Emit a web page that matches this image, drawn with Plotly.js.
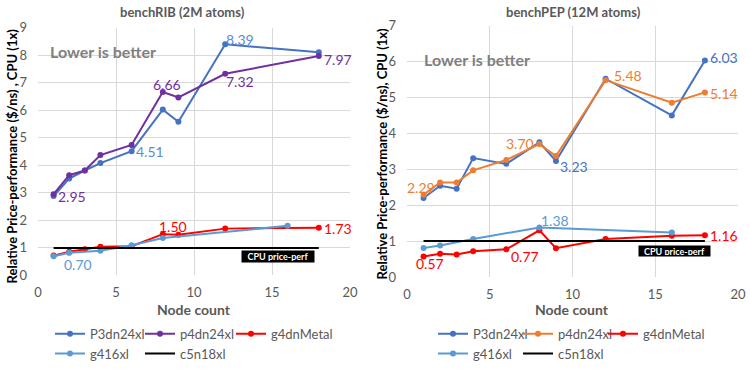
<!DOCTYPE html>
<html>
<head>
<meta charset="utf-8">
<script src="https://cdn.plot.ly/plotly-3.0.1.min.js"></script>
<style>html,body{margin:0;padding:0;background:#fff;}#chart{width:750px;height:369px;}</style>
</head>
<body>
<div id="chart"></div>
<script>
// ---------- benchRIB (2M atoms) ----------
var ribNodes      = [1, 2, 3, 4, 6, 8, 9, 12, 18];
var ribP3dn24xl   = [2.88, 3.52, 3.81, 4.08, 4.51, 6.02, 5.58, 8.39, 8.10];
var ribP4dn24xl   = [2.95, 3.64, 3.81, 4.37, 4.74, 6.66, 6.46, 7.32, 7.97];
var ribG4dnMetal  = [0.72, 0.86, 0.95, 1.04, 1.06, 1.50, 1.48, 1.70, 1.73];
var ribG416Nodes  = [1, 2, 4, 6, 8, 16];
var ribG416xl     = [0.70, 0.82, 0.90, 1.10, 1.36, 1.80];
var cpuNodes      = [1, 18];
var cpuBaseline   = [1, 1];

// ---------- benchPEP (12M atoms) ----------
var pepNodes      = [1, 2, 3, 4, 6, 8, 9, 12, 16, 18];
var pepP3dn24xl   = [2.20, 2.54, 2.46, 3.31, 3.15, 3.75, 3.23, 5.52, 4.50, 6.03];
var pepP4dn24xl   = [2.29, 2.63, 2.63, 2.97, 3.26, 3.70, 3.37, 5.48, 4.85, 5.14];
var pepG4dnMetal  = [0.57, 0.65, 0.63, 0.72, 0.77, 1.30, 0.80, 1.06, 1.15, 1.16];
var pepG416Nodes  = [1, 2, 4, 8, 16];
var pepG416xl     = [0.81, 0.88, 1.06, 1.38, 1.24];

var seriesNames = ['P3dn24xl', 'p4dn24xl', 'g4dnMetal', 'g416xl', 'c5n18xl'];
var xTicks = [0, 5, 10, 15, 20];

var C_P3 = '#4472C4', C_P4L = '#7030A0', C_P4R = '#ED7D31', C_RED = '#FF0000', C_G416 = '#5B9BD5';
var FONT = 'Lato, "Open Sans", sans-serif';

function tr(name, x, y, color, xa, ya, legend, mode) {
  return {
    type: 'scatter', mode: mode || 'lines+markers', name: name, x: x, y: y,
    xaxis: xa, yaxis: ya, legend: legend,
    line: {color: color, width: 2}, marker: {color: color, size: 6},
    hoverinfo: 'x+y+name'
  };
}

// legend columns: legend/legend2/legend3 (left chart), legend4/legend5/legend6 (right chart)
var data = [
  tr(seriesNames[0], ribNodes, ribP3dn24xl, C_P3, 'x', 'y', 'legend'),
  tr(seriesNames[1], ribNodes, ribP4dn24xl, C_P4L, 'x', 'y', 'legend2'),
  tr(seriesNames[2], ribNodes, ribG4dnMetal, C_RED, 'x', 'y', 'legend3'),
  tr(seriesNames[3], ribG416Nodes, ribG416xl, C_G416, 'x', 'y', 'legend'),
  tr(seriesNames[4], cpuNodes, cpuBaseline, '#000000', 'x', 'y', 'legend2', 'lines'),
  tr(seriesNames[0], pepNodes, pepP3dn24xl, C_P3, 'x2', 'y2', 'legend4'),
  tr(seriesNames[1], pepNodes, pepP4dn24xl, C_P4R, 'x2', 'y2', 'legend5'),
  tr(seriesNames[2], pepNodes, pepG4dnMetal, C_RED, 'x2', 'y2', 'legend6'),
  tr(seriesNames[3], pepG416Nodes, pepG416xl, C_G416, 'x2', 'y2', 'legend4'),
  tr(seriesNames[4], cpuNodes, cpuBaseline, '#000000', 'x2', 'y2', 'legend5', 'lines')
];

function lab(xr, yr, x, y, color, xanchor, xs, ys) {
  return {xref: xr, yref: yr, x: x, y: y, text: y.toFixed(2), showarrow: false,
    font: {family: FONT, size: 14, color: color}, xanchor: xanchor, yanchor: 'middle',
    xshift: xs, yshift: ys};
}
var annotations = [
  lab('x', 'y', ribNodes[7], ribP3dn24xl[7], '#5B8BD5', 'left', -1, 5),
  lab('x', 'y', ribNodes[4], ribP3dn24xl[4], '#5B8BD5', 'left', 2, 0),
  lab('x', 'y', ribNodes[8], ribP4dn24xl[8], C_P4L, 'left', 3, -4),
  lab('x', 'y', ribNodes[5], ribP4dn24xl[5], C_P4L, 'center', 4, 7),
  lab('x', 'y', ribNodes[7], ribP4dn24xl[7], C_P4L, 'left', -1, -8),
  lab('x', 'y', ribNodes[0], ribP4dn24xl[0], C_P4L, 'left', 2, -2),
  lab('x', 'y', ribNodes[5], ribG4dnMetal[5], C_RED, 'center', 10, 8),
  lab('x', 'y', ribNodes[8], ribG4dnMetal[8], C_RED, 'left', 3, -1),
  lab('x', 'y', ribG416Nodes[0], ribG416xl[0], C_G416, 'left', 8, -8),
  lab('x2', 'y2', pepNodes[9], pepP3dn24xl[9], C_P3, 'left', 3, 3),
  lab('x2', 'y2', pepNodes[6], pepP3dn24xl[6], C_P3, 'left', 2, -6),
  lab('x2', 'y2', pepNodes[7], pepP4dn24xl[7], C_P4R, 'left', 6, 5),
  lab('x2', 'y2', pepNodes[9], pepP4dn24xl[9], C_P4R, 'left', 3, -1),
  lab('x2', 'y2', pepNodes[5], pepP4dn24xl[5], C_P4R, 'right', -3, 1),
  lab('x2', 'y2', pepNodes[0], pepP4dn24xl[0], C_P4R, 'center', -3, 7),
  lab('x2', 'y2', pepG416Nodes[3], pepG416xl[3], C_G416, 'left', 0, 7),
  lab('x2', 'y2', pepNodes[9], pepG4dnMetal[9], C_RED, 'left', 3, 0),
  lab('x2', 'y2', pepNodes[0], pepG4dnMetal[0], C_RED, 'center', 6, -7),
  lab('x2', 'y2', pepNodes[4], pepG4dnMetal[4], C_RED, 'left', 3, -7)
];

function pa(x, y, text, size, color, opts) {
  var a = {xref: 'paper', yref: 'paper', x: x / 750, y: 1 - y / 369, text: text, showarrow: false,
    xanchor: 'center', yanchor: 'middle', font: {family: FONT, size: size, color: color}};
  for (var k in (opts || {})) a[k] = opts[k];
  return a;
}
annotations.push(pa(182, 12, '<b>benchRIB (2M atoms)</b>', 13, '#595959'));
annotations.push(pa(573, 12, '<b>benchPEP (12M atoms)</b>', 13, '#595959'));
annotations.push(pa(194, 315, '<b>Node count</b>', 14, '#595959'));
annotations.push(pa(572, 315, '<b>Node count</b>', 14, '#595959'));
annotations.push(pa(12, 159, '<b>Relative Price-performance ($/ns) , CPU (1x)</b>', 13, '#000000', {textangle: -90}));
annotations.push(pa(382, 157, '<b>Relative Price-performance ($/ns), CPU (1x)</b>', 13, '#000000', {textangle: -90}));
annotations.push(pa(48, 52, '<b>Lower is better</b>', 16, '#808080', {xanchor: 'left'}));
annotations.push(pa(422, 60, '<b>Lower is better</b>', 16, '#808080', {xanchor: 'left'}));
annotations.push({xref: 'x', yref: 'y', x: 15.37, y: 0.70, text: '<b>CPU price-perf</b>', showarrow: false,
  bgcolor: '#000000', width: 70, height: 9, borderpad: 1, xanchor: 'center', yanchor: 'middle',
  font: {family: FONT, size: 9, color: '#FFFFFF'}});
annotations.push({xref: 'x2', yref: 'y2', x: 16.16, y: 0.72, text: '<b>CPU price-perf</b>', showarrow: false,
  bgcolor: '#000000', width: 69, height: 8, borderpad: 1, xanchor: 'center', yanchor: 'middle',
  font: {family: FONT, size: 9, color: '#FFFFFF'}});

function xax(domain, anchor) {
  return {domain: domain, anchor: anchor, range: [0, 20], tickvals: xTicks, ticktext: xTicks.map(String),
    showgrid: true, gridcolor: '#D9D9D9', gridwidth: 1, zeroline: false, showline: false, ticks: '',
    tickfont: {family: FONT, size: 13, color: '#595959'}, ticklabelstandoff: 8, fixedrange: true};
}
function yax(domain, anchor, maxv) {
  var tv = []; for (var i = 0; i <= maxv; i++) tv.push(i);
  return {domain: domain, anchor: anchor, range: [0, maxv], tickvals: tv,
    showgrid: true, gridcolor: '#D9D9D9', gridwidth: 1, zeroline: false, showline: false, ticks: '',
    tickfont: {family: FONT, size: 13, color: '#595959'}, ticklabelstandoff: 10, fixedrange: true};
}

function leg(x) {
  return {orientation: 'v', x: x / 750, y: 1 - 324 / 369, xanchor: 'left', yanchor: 'top',
    bgcolor: 'rgba(0,0,0,0)', font: {family: FONT, size: 13, color: '#595959'}, itemwidth: 30,
    tracegroupgap: 0, itemclick: false, itemdoubleclick: false};
}

var layout = {
  width: 750, height: 369, margin: {l: 0, r: 0, t: 0, b: 0},
  paper_bgcolor: '#FFFFFF', plot_bgcolor: '#FFFFFF',
  font: {family: FONT, color: '#595959'},
  xaxis: xax([38/750, 350/750], 'y'),
  yaxis: yax([1 - 280/369, 1 - 28/369], 'x', 9),
  xaxis2: xax([407/750, 738/750], 'y2'),
  yaxis2: yax([1 - 281.6/369, 1 - 26/369], 'x2', 7),
  legend:  leg(50),
  legend2: leg(140),
  legend3: leg(231),
  legend4: leg(433),
  legend5: leg(518),
  legend6: leg(603),
  annotations: annotations,
  showlegend: true
};

Plotly.newPlot('chart', data, layout, {displayModeBar: false});
</script>
</body>
</html>
